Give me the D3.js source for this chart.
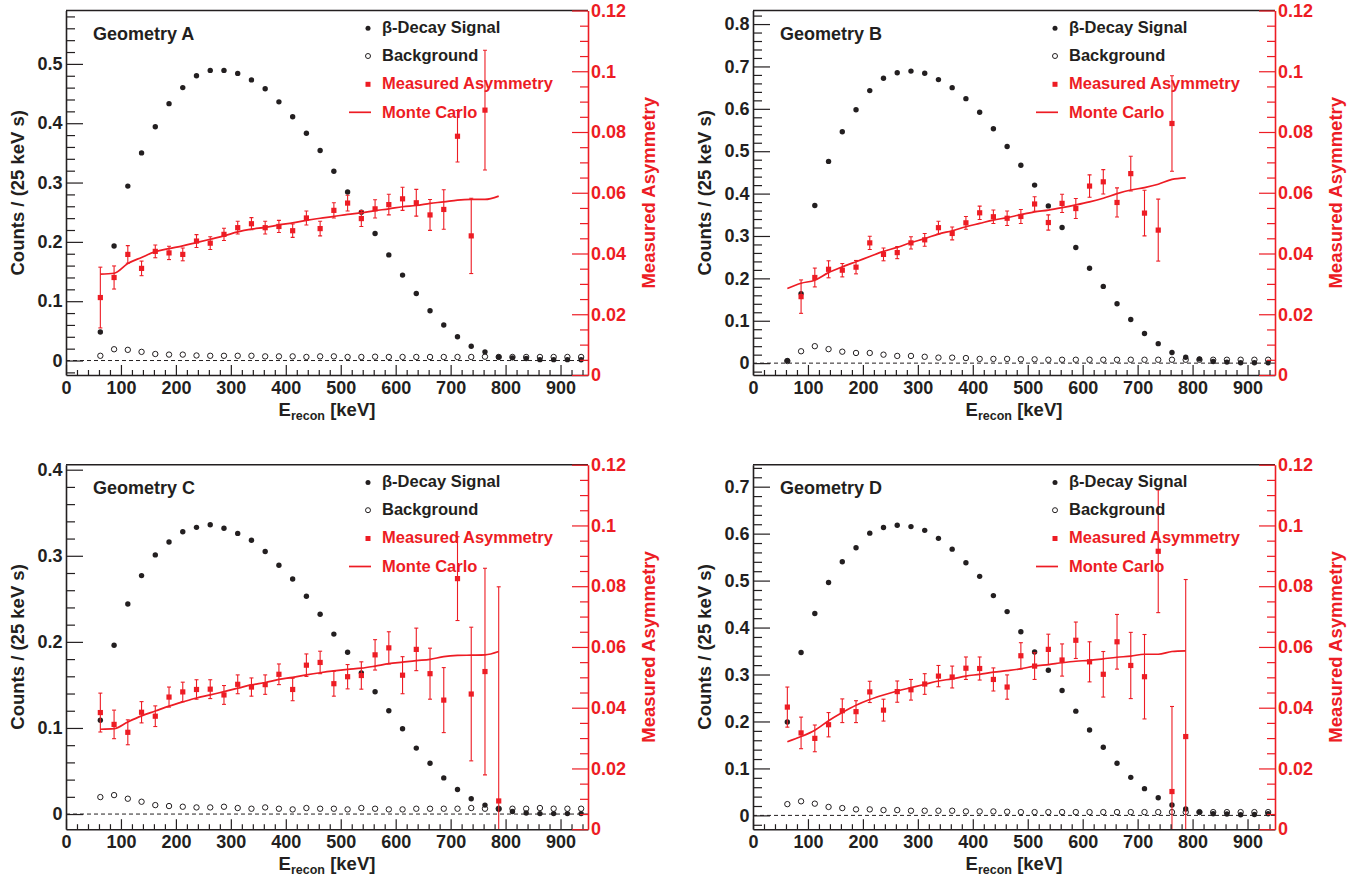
<!DOCTYPE html>
<html><head><meta charset="utf-8">
<script src="https://cdn.jsdelivr.net/npm/d3@7"></script>
<style>
body{margin:0;background:#fff}
svg{display:block}
text{font-family:"Liberation Sans",Arial,Helvetica,sans-serif;font-weight:bold}
</style>
</head><body>
<svg id="c" width="1368" height="882"></svg>
<script>
// ---------------- DATA ----------------
const energies = [62.5, 87.5, 112.5, 137.5, 162.5, 187.5, 212.5, 237.5, 262.5, 287.5, 312.5, 337.5,
  362.5, 387.5, 412.5, 437.5, 462.5, 487.5, 512.5, 537.5, 562.5, 587.5, 612.5, 637.5, 662.5, 687.5,
  712.5, 737.5, 762.5, 787.5, 812.5, 837.5, 862.5, 887.5, 912.5, 937.5];
const mcEnergies = [62.5, 87.5, 112.5, 137.5, 162.5, 187.5, 212.5, 237.5, 262.5, 287.5, 312.5, 337.5,
  362.5, 387.5, 412.5, 437.5, 462.5, 487.5, 512.5, 537.5, 562.5, 587.5, 612.5, 637.5, 662.5, 687.5,
  712.5, 737.5, 762.5, 787.5];
const asymEnergiesA = [62.5, 87.5, 112.5, 137.5, 162.5, 187.5, 212.5, 237.5, 262.5, 287.5, 312.5, 337.5,
  362.5, 387.5, 412.5, 437.5, 462.5, 487.5, 512.5, 537.5, 562.5, 587.5, 612.5, 637.5, 662.5, 687.5,
  712.5, 737.5, 762.5];
const asymEnergiesB = [87.5, 112.5, 137.5, 162.5, 187.5, 212.5, 237.5, 262.5, 287.5, 312.5, 337.5,
  362.5, 387.5, 412.5, 437.5, 462.5, 487.5, 512.5, 537.5, 562.5, 587.5, 612.5, 637.5, 662.5, 687.5,
  712.5, 737.5, 762.5];
const asymEnergiesCD = [62.5, 87.5, 112.5, 137.5, 162.5, 187.5, 212.5, 237.5, 262.5, 287.5, 312.5, 337.5,
  362.5, 387.5, 412.5, 437.5, 462.5, 487.5, 512.5, 537.5, 562.5, 587.5, 612.5, 637.5, 662.5, 687.5,
  712.5, 737.5, 762.5, 787.5];

// Geometry A
const signalA = [0.048, 0.193, 0.294, 0.350, 0.394, 0.433, 0.460, 0.480, 0.489, 0.489, 0.484, 0.473,
  0.458, 0.436, 0.411, 0.383, 0.354, 0.319, 0.284, 0.250, 0.214, 0.178, 0.144, 0.113, 0.084, 0.060,
  0.040, 0.024, 0.0146, 0.006, 0.0045, 0.0035, 0.0015, 0.0015, 0.0015, 0.0012];
const backgroundA = [0.008, 0.019, 0.018, 0.0146, 0.011, 0.010, 0.010, 0.0085, 0.008, 0.008, 0.008, 0.008,
  0.007, 0.007, 0.007, 0.006, 0.007, 0.007, 0.006, 0.006, 0.0065, 0.006, 0.006, 0.006, 0.006, 0.006,
  0.006, 0.006, 0.0065, 0.006, 0.006, 0.006, 0.006, 0.006, 0.006, 0.006];
const asymA = [0.0255, 0.0321, 0.0397, 0.0351, 0.0407, 0.0402, 0.0397, 0.0441, 0.0434, 0.0463, 0.0485,
  0.0498, 0.0485, 0.0489, 0.0475, 0.0517, 0.0482, 0.0542, 0.0566, 0.0515, 0.0547, 0.0561, 0.058, 0.0567,
  0.0527, 0.0545, 0.0786, 0.0458, 0.0872];
const asymErrA = [0.010, 0.0038, 0.0029, 0.0024, 0.0021, 0.0022, 0.0021, 0.0021, 0.0021, 0.002, 0.0021,
  0.002, 0.0021, 0.002, 0.0022, 0.0023, 0.0024, 0.0025, 0.0026, 0.0026, 0.003, 0.0034, 0.0038, 0.0044,
  0.0051, 0.0065, 0.0085, 0.0124, 0.0197];
const monteCarloA = [0.0332, 0.0335, 0.0367, 0.0387, 0.0406, 0.0416, 0.0425, 0.0436, 0.0447, 0.0458,
  0.0471, 0.048, 0.0486, 0.0494, 0.0501, 0.0509, 0.0516, 0.0522, 0.0529, 0.0534, 0.0541, 0.0547, 0.0554,
  0.0558, 0.0565, 0.057, 0.0576, 0.0578, 0.0578, 0.0589];

// Geometry B
const signalB = [0.006, 0.164, 0.372, 0.476, 0.546, 0.598, 0.643, 0.672, 0.685, 0.689, 0.684, 0.669,
  0.650, 0.624, 0.592, 0.553, 0.511, 0.467, 0.420, 0.371, 0.320, 0.273, 0.224, 0.181, 0.140, 0.103,
  0.070, 0.046, 0.025, 0.014, 0.010, 0.004, 0.0024, 0.001, 0.001, 0.001];
const backgroundB = [0.005, 0.028, 0.040, 0.033, 0.027, 0.024, 0.024, 0.020, 0.017, 0.017, 0.015, 0.013,
  0.013, 0.012, 0.010, 0.010, 0.010, 0.009, 0.009, 0.008, 0.008, 0.008, 0.008, 0.008, 0.008, 0.008,
  0.008, 0.008, 0.008, 0.008, 0.008, 0.008, 0.008, 0.008, 0.008, 0.008];
const asymB = [0.0258, 0.0321, 0.0348, 0.0345, 0.0355, 0.0435, 0.0397, 0.0403, 0.0435, 0.0445, 0.0485,
  0.0466, 0.0501, 0.0534, 0.0521, 0.0516, 0.0522, 0.0563, 0.0502, 0.0565, 0.0548, 0.0622, 0.0636, 0.0568,
  0.0663, 0.0533, 0.0477, 0.0828];
const asymErrB = [0.0055, 0.0031, 0.0028, 0.0022, 0.0022, 0.0022, 0.0021, 0.002, 0.002, 0.0021, 0.0021,
  0.0021, 0.0021, 0.0022, 0.0022, 0.0024, 0.0023, 0.0024, 0.0025, 0.003, 0.0033, 0.0037, 0.004, 0.0048,
  0.0057, 0.0075, 0.0102, 0.0157];
const monteCarloB = [0.0285, 0.0302, 0.0312, 0.0337, 0.0356, 0.0373, 0.039, 0.0407, 0.042, 0.0436, 0.0449,
  0.0464, 0.0475, 0.0488, 0.0499, 0.051, 0.0518, 0.0528, 0.0537, 0.0543, 0.0551, 0.056, 0.057, 0.0582,
  0.0597, 0.0609, 0.0617, 0.0628, 0.0644, 0.0649];

// Geometry C
const signalC = [0.109, 0.196, 0.244, 0.277, 0.301, 0.316, 0.328, 0.333, 0.336, 0.332, 0.326, 0.318,
  0.305, 0.289, 0.273, 0.253, 0.232, 0.209, 0.188, 0.164, 0.142, 0.120, 0.099, 0.0766, 0.059, 0.042,
  0.0286, 0.0178, 0.0104, 0.0058, 0.003, 0.0012, 0.0005, 0.0005, 0.0005, 0.0005];
const backgroundC = [0.0197, 0.022, 0.0178, 0.0143, 0.0104, 0.0093, 0.0085, 0.0077, 0.0077, 0.0085,
  0.007, 0.0062, 0.0077, 0.0062, 0.0054, 0.007, 0.0062, 0.0062, 0.0054, 0.007, 0.0062, 0.0054, 0.0054,
  0.0062, 0.0062, 0.0062, 0.0062, 0.007, 0.0062, 0.0062, 0.0062, 0.0062, 0.007, 0.0062, 0.0062, 0.0062];
const asymC = [0.0384, 0.0345, 0.0319, 0.0385, 0.0372, 0.0435, 0.0452, 0.046, 0.0461, 0.0442, 0.0477,
  0.0468, 0.0476, 0.051, 0.046, 0.054, 0.0549, 0.0479, 0.0502, 0.0506, 0.0574, 0.0597, 0.0507, 0.0592,
  0.0512, 0.0425, 0.0825, 0.0445, 0.0519, 0.0093];
const asymErrC = [0.0064, 0.0047, 0.0041, 0.0035, 0.0034, 0.0033, 0.0032, 0.0032, 0.0031, 0.0031, 0.0031,
  0.003, 0.0032, 0.0034, 0.0037, 0.0037, 0.0037, 0.0041, 0.004, 0.0045, 0.005, 0.0053, 0.0061, 0.007,
  0.0084, 0.0107, 0.0138, 0.022, 0.034, 0.0705];
const monteCarloC = [0.0329, 0.0331, 0.0353, 0.0373, 0.0389, 0.0405, 0.0419, 0.0432, 0.0442, 0.0453,
  0.0464, 0.0475, 0.0483, 0.0493, 0.05, 0.0508, 0.0515, 0.0521, 0.0526, 0.053, 0.0537, 0.0545, 0.055,
  0.0555, 0.0559, 0.0568, 0.0572, 0.0573, 0.0574, 0.0585];

// Geometry D
const signalD = [0.199, 0.347, 0.430, 0.496, 0.540, 0.570, 0.601, 0.613, 0.618, 0.615, 0.607, 0.590,
  0.567, 0.538, 0.509, 0.468, 0.434, 0.391, 0.348, 0.309, 0.266, 0.222, 0.182, 0.145, 0.111, 0.081,
  0.057, 0.0376, 0.022, 0.0135, 0.007, 0.0035, 0.003, 0.0014, 0.002, 0.0035];
const backgroundD = [0.024, 0.030, 0.025, 0.018, 0.0156, 0.0128, 0.0128, 0.0113, 0.0113, 0.0099, 0.0099,
  0.0099, 0.0099, 0.0085, 0.0085, 0.0085, 0.0078, 0.007, 0.007, 0.007, 0.007, 0.007, 0.007, 0.007, 0.007,
  0.007, 0.007, 0.007, 0.007, 0.007, 0.007, 0.007, 0.007, 0.007, 0.007, 0.007];
const asymD = [0.0402, 0.0317, 0.0299, 0.0344, 0.039, 0.0387, 0.0452, 0.0392, 0.0453, 0.0459, 0.0478,
  0.0504, 0.0501, 0.053, 0.0529, 0.0493, 0.0468, 0.0571, 0.0537, 0.0592, 0.0557, 0.0622, 0.0551, 0.051,
  0.0617, 0.0539, 0.0502, 0.0915, 0.0124, 0.0305];
const asymErrD = [0.0066, 0.0052, 0.0044, 0.004, 0.0039, 0.0036, 0.0035, 0.0036, 0.0035, 0.0034, 0.0034,
  0.0035, 0.0036, 0.0037, 0.0038, 0.0038, 0.004, 0.0043, 0.0044, 0.005, 0.0053, 0.006, 0.0066, 0.0075,
  0.009, 0.0109, 0.0139, 0.0202, 0.028, 0.0517];
const monteCarloD = [0.0288, 0.0305, 0.0326, 0.0357, 0.0384, 0.0408, 0.0427, 0.0442, 0.0455, 0.0466,
  0.0477, 0.0488, 0.0495, 0.0504, 0.051, 0.0517, 0.0522, 0.0528, 0.0537, 0.0542, 0.0548, 0.0553, 0.0556,
  0.0561, 0.0566, 0.057, 0.0576, 0.0576, 0.0585, 0.0587];

// Axis ticks / ranges
const energyTicks = [0, 100, 200, 300, 400, 500, 600, 700, 800, 900];
const energyRange = [0, 950];
const asymTicks = [0, 0.02, 0.04, 0.06, 0.08, 0.1, 0.12];
const asymRange = [0, 0.12];
const countTicksA = [0, 0.1, 0.2, 0.3, 0.4, 0.5];
const countTicksB = [0, 0.1, 0.2, 0.3, 0.4, 0.5, 0.6, 0.7, 0.8];
const countTicksC = [0, 0.1, 0.2, 0.3, 0.4];
const countTicksD = [0, 0.1, 0.2, 0.3, 0.4, 0.5, 0.6, 0.7];
const countRangeA = [-0.0244, 0.590];
const countRangeB = [-0.0280, 0.832];
const countRangeC = [-0.0176, 0.4058];
const countRangeD = [-0.0294, 0.7468];
const legendLabels = ["\u03b2-Decay Signal", "Background", "Measured Asymmetry", "Monte Carlo"];
const yTitle = "Counts / (25 keV s)";
const y2Title = "Measured Asymmetry";

// ---------------- DRAWING ----------------
const RED = "#ed1c24", INK = "#231f20";
const W = 522, H = 364.5;
const svg = d3.select("#c");

const panels = [
  {id: "A", left: 66,  top: 10.5,  sig: signalA, bg: backgroundA, asymE: asymEnergiesA, asym: asymA, err: asymErrA, mc: monteCarloA, ticks: countTicksA, range: countRangeA},
  {id: "B", left: 753, top: 10.5,  sig: signalB, bg: backgroundB, asymE: asymEnergiesB, asym: asymB, err: asymErrB, mc: monteCarloB, ticks: countTicksB, range: countRangeB},
  {id: "C", left: 66,  top: 464.7, sig: signalC, bg: backgroundC, asymE: asymEnergiesCD, asym: asymC, err: asymErrC, mc: monteCarloC, ticks: countTicksC, range: countRangeC},
  {id: "D", left: 753, top: 464.7, sig: signalD, bg: backgroundD, asymE: asymEnergiesCD, asym: asymD, err: asymErrD, mc: monteCarloD, ticks: countTicksD, range: countRangeD}
];

function styleAxis(sel, color, width) {
  sel.select(".domain").attr("stroke", color).attr("stroke-width", width);
  sel.selectAll(".tick line").attr("stroke", color).attr("stroke-width", 1.2);
  sel.selectAll(".tick text").attr("fill", color).attr("font-size", 18)
     .style("font-family", '"Liberation Sans",Arial,sans-serif').style("font-weight", "bold");
}

panels.forEach(p => {
  const g = svg.append("g").attr("transform", `translate(${p.left},${p.top})`);
  const x = d3.scaleLinear().domain(energyRange).range([0, W]);
  const yL = d3.scaleLinear().domain(p.range).range([H, 0]);
  const yR = d3.scaleLinear().domain(asymRange).range([H, 0]);

  g.append("clipPath").attr("id", "clip" + p.id)
    .append("rect").attr("x", 0).attr("y", 0).attr("width", W).attr("height", H);

  // dashed zero line
  g.append("line").attr("x1", 0).attr("x2", W).attr("y1", yL(0)).attr("y2", yL(0))
    .attr("stroke", INK).attr("stroke-width", 1).attr("stroke-dasharray", "4,3");

  // background (open circles)
  g.append("g").selectAll("circle")
    .data(energies.map((e, i) => ({e, v: p.bg[i]})))
    .join("circle")
    .attr("cx", d => x(d.e)).attr("cy", d => yL(d.v)).attr("r", 2.7)
    .attr("fill", "white").attr("stroke", INK).attr("stroke-width", 1);

  // beta signal (filled dots)
  g.append("g").selectAll("circle")
    .data(energies.map((e, i) => ({e, v: p.sig[i]})))
    .join("circle")
    .attr("cx", d => x(d.e)).attr("cy", d => yL(d.v)).attr("r", 2.7)
    .attr("fill", INK);

  // asymmetry
  const ad = p.asymE.map((e, i) => ({e, v: p.asym[i], s: p.err[i]}));
  const rg = g.append("g").attr("clip-path", `url(#clip${p.id})`);
  const eb = rg.append("g").attr("stroke", RED).attr("stroke-width", 1.1);
  eb.selectAll("line.v").data(ad).join("line").attr("class", "v")
    .attr("x1", d => x(d.e)).attr("x2", d => x(d.e))
    .attr("y1", d => yR(d.v - d.s)).attr("y2", d => yR(d.v + d.s));
  eb.selectAll("line.t").data(ad).join("line").attr("class", "t")
    .attr("x1", d => x(d.e) - 2).attr("x2", d => x(d.e) + 2)
    .attr("y1", d => yR(d.v + d.s)).attr("y2", d => yR(d.v + d.s));
  eb.selectAll("line.b").data(ad).join("line").attr("class", "b")
    .attr("x1", d => x(d.e) - 2).attr("x2", d => x(d.e) + 2)
    .attr("y1", d => yR(d.v - d.s)).attr("y2", d => yR(d.v - d.s));
  rg.append("g").selectAll("rect").data(ad).join("rect")
    .attr("x", d => x(d.e) - 2.6).attr("y", d => yR(d.v) - 2.6)
    .attr("width", 5.2).attr("height", 5.2).attr("fill", RED);

  // Monte Carlo
  const line = d3.line().x(d => x(d.e)).y(d => yR(d.v)).curve(d3.curveMonotoneX);
  rg.append("path").datum(mcEnergies.map((e, i) => ({e, v: p.mc[i]})))
    .attr("d", line).attr("fill", "none").attr("stroke", RED).attr("stroke-width", 1.7);

  // ---- axes ----
  // top frame
  g.append("line").attr("x1", 0).attr("x2", W).attr("y1", 0).attr("y2", 0)
    .attr("stroke", INK).attr("stroke-width", 1.5);

  // left axis
  const lMinor = d3.range(Math.ceil(p.range[0] / 0.02), Math.floor(p.range[1] / 0.02) + 1)
    .map(i => i * 0.02).filter(v => Math.abs(v / 0.1 - Math.round(v / 0.1)) > 1e-6);
  g.append("g").call(d3.axisLeft(yL).tickValues(lMinor).tickSize(-9).tickSizeOuter(0).tickFormat(""))
    .call(s => { s.select(".domain").remove(); s.selectAll(".tick line").attr("stroke", INK).attr("stroke-width", 1.2); });
  g.append("g").call(d3.axisLeft(yL).tickValues(p.ticks).tickSize(-17).tickSizeOuter(0).tickPadding(3.5).tickFormat(d3.format("~g")))
    .call(s => styleAxis(s, INK, 1.6));

  // bottom axis
  const xMinor = d3.range(1, 48).map(i => i * 20).filter(v => v % 100 !== 0);
  g.append("g").attr("transform", `translate(0,${H})`)
    .call(d3.axisBottom(x).tickValues(xMinor).tickSize(-5).tickSizeOuter(0).tickFormat(""))
    .call(s => { s.select(".domain").remove(); s.selectAll(".tick line").attr("stroke", INK).attr("stroke-width", 1.2); });
  g.append("g").attr("transform", `translate(0,${H})`)
    .call(d3.axisBottom(x).tickValues(energyTicks).tickSize(-10).tickSizeOuter(0).tickPadding(6).tickFormat(d3.format("d")))
    .call(s => styleAxis(s, INK, 1.6));

  // right axis (red)
  const rMinor = d3.range(1, 24).map(i => i * 0.005).filter(v => Math.abs(v / 0.02 - Math.round(v / 0.02)) > 1e-6);
  g.append("g").attr("transform", `translate(${W},0)`)
    .call(d3.axisRight(yR).tickValues(rMinor).tickSize(-8).tickSizeOuter(0).tickFormat(""))
    .call(s => { s.select(".domain").remove(); s.selectAll(".tick line").attr("stroke", RED).attr("stroke-width", 1.2); });
  g.append("g").attr("transform", `translate(${W},0)`)
    .call(d3.axisRight(yR).tickValues(asymTicks).tickSize(-16).tickSizeOuter(0).tickPadding(3).tickFormat(d3.format("~g")))
    .call(s => styleAxis(s, RED, 1.6));

  // titles
  g.append("text").attr("transform", `translate(-49,${H / 2}) rotate(-90)`)
    .attr("text-anchor", "middle").attr("dominant-baseline", "central")
    .attr("font-size", 18.5).attr("fill", INK).text(yTitle);
  g.append("text").attr("transform", `translate(${W + 60},${H / 2}) rotate(-90)`)
    .attr("text-anchor", "middle").attr("dominant-baseline", "central")
    .attr("font-size", 18.5).attr("fill", RED).text(y2Title);
  const xt = g.append("text").attr("x", W / 2).attr("y", H + 40.5)
    .attr("text-anchor", "middle").attr("font-size", 18.5).attr("fill", INK);
  xt.append("tspan").text("E");
  xt.append("tspan").attr("font-size", 12.5).attr("dy", 4).text("recon");
  xt.append("tspan").attr("dy", -4).text(" [keV]");

  // geometry label
  g.append("text").attr("x", 27).attr("y", 23.5).attr("dominant-baseline", "central")
    .attr("font-size", 18).attr("fill", INK).text("Geometry " + p.id);

  // legend
  const lg = g.append("g");
  const rows = [16.8, 44.5, 72.8, 101.8];
  const colors = [INK, INK, RED, RED];
  legendLabels.forEach((t, i) => {
    lg.append("text").attr("x", 316).attr("y", rows[i]).attr("dominant-baseline", "central")
      .attr("font-size", 16.5).attr("fill", colors[i]).text(t);
  });
  lg.append("circle").attr("cx", 302).attr("cy", rows[0] + 1).attr("r", 2.5).attr("fill", INK);
  lg.append("circle").attr("cx", 302).attr("cy", rows[1] + 1).attr("r", 2.5).attr("fill", "white").attr("stroke", INK).attr("stroke-width", 1);
  lg.append("rect").attr("x", 299.5).attr("y", rows[2] - 1.5).attr("width", 5).attr("height", 5).attr("fill", RED);
  lg.append("line").attr("x1", 283).attr("x2", 305).attr("y1", rows[3]).attr("y2", rows[3]).attr("stroke", RED).attr("stroke-width", 1.7);
});
</script>
</body></html>
